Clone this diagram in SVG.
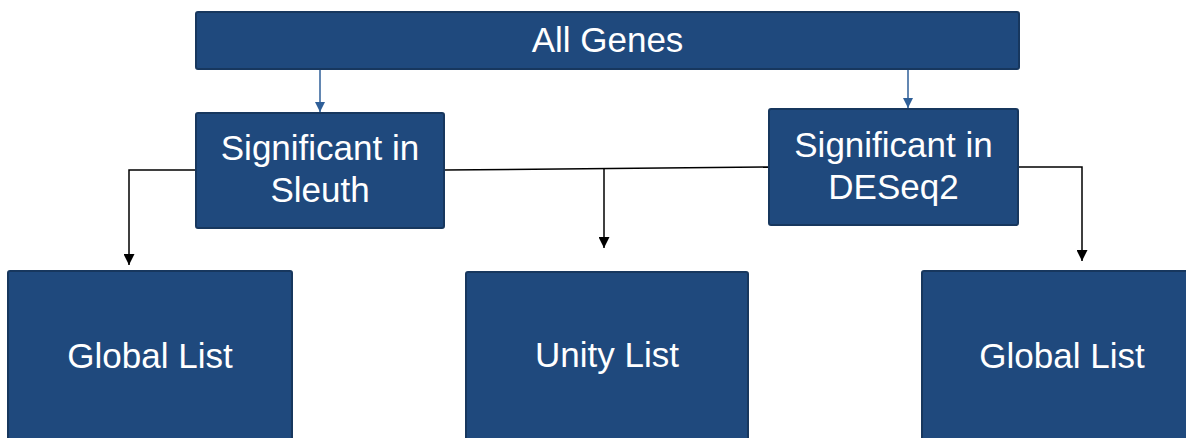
<svg xmlns="http://www.w3.org/2000/svg" width="1186" height="438" viewBox="0 0 1186 438">
  <style>
    .box { fill: #1F497D; stroke: #17375E; stroke-width: 2; }
    .lbl { fill: #FFFFFF; font-family: "Liberation Sans", Arial, sans-serif; font-size: 35px; text-anchor: middle; }
    .blue { stroke: #2F5F98; stroke-width: 1.5; fill: none; }
    .black { stroke: #000000; stroke-width: 1.5; fill: none; }
  </style>
  <defs>
    <marker id="ahBlue" viewBox="0 0 10 10" refX="10" refY="5" markerUnits="userSpaceOnUse" markerWidth="10" markerHeight="10" orient="auto">
      <path d="M0,0 L10,5 L0,10 Z" fill="#2F5F98"/>
    </marker>
    <marker id="ahBlack" viewBox="0 0 10 10" refX="10" refY="5" markerUnits="userSpaceOnUse" markerWidth="11" markerHeight="11" orient="auto">
      <path d="M0,0 L10,5 L0,10 Z" fill="#000000"/>
    </marker>
  </defs>

  <g id="connectors">
    <path class="blue" d="M320,69 L320,112" marker-end="url(#ahBlue)"/>
    <path class="blue" d="M908,69 L908,108" marker-end="url(#ahBlue)"/>
    <path class="black" d="M196,170 L129,170 L129,265" marker-end="url(#ahBlack)"/>
    <path class="black" d="M444,170 L770,167"/>
    <path class="black" d="M604,169 L604,248" marker-end="url(#ahBlack)"/>
    <path class="black" d="M1018,167 L1082,167 L1082,261" marker-end="url(#ahBlack)"/>
  </g>

  <g id="node-all-genes">
    <rect class="box" x="196" y="12" width="823" height="57" rx="2"/>
    <text class="lbl" x="607.5" y="52">All Genes</text>
  </g>

  <g id="node-sleuth">
    <rect class="box" x="196" y="113" width="248" height="115" rx="2"/>
    <text class="lbl" x="320" y="160">Significant in</text>
    <text class="lbl" x="320" y="202">Sleuth</text>
  </g>

  <g id="node-deseq2">
    <rect class="box" x="769" y="109" width="249" height="116" rx="2"/>
    <text class="lbl" x="893.5" y="157">Significant in</text>
    <text class="lbl" x="893.5" y="199">DESeq2</text>
  </g>

  <g id="node-global-left">
    <rect class="box" x="8" y="271" width="284" height="180" rx="2"/>
    <text class="lbl" x="150" y="368">Global List</text>
  </g>

  <g id="node-unity">
    <rect class="box" x="466" y="272" width="282" height="180" rx="2"/>
    <text class="lbl" x="607" y="367">Unity List</text>
  </g>

  <g id="node-global-right">
    <rect class="box" x="922" y="271" width="280" height="180" rx="2"/>
    <text class="lbl" x="1062" y="368">Global List</text>
  </g>
</svg>
